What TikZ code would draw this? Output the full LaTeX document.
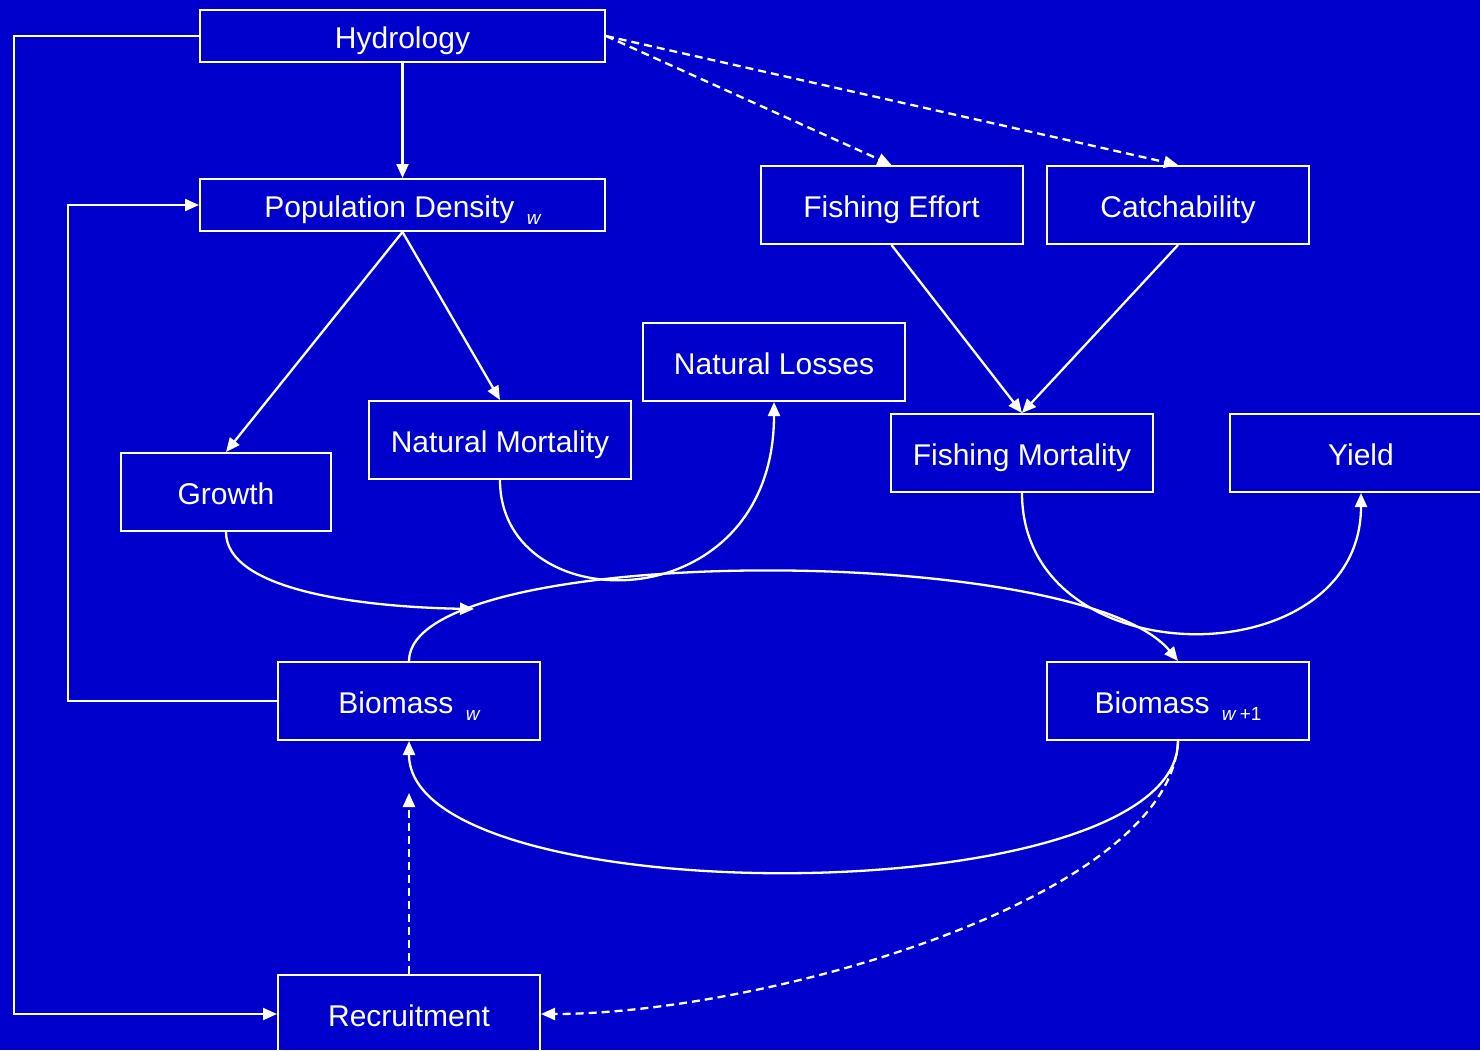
\documentclass[tikz,border=0pt]{standalone}
\usepackage{fontspec}
\setmainfont{Liberation Sans}
\usepackage{tikz}
\usetikzlibrary{arrows.meta,calc,positioning}
\definecolor{bgblue}{RGB}{0,0,204}
\newcommand{\lowsub}[1]{\raisebox{-7pt}{\fontsize{19}{19}\selectfont #1}}
\tikzset{%
	box/.style       = {draw=white, rectangle, line width=2pt, minimum width=262pt, minimum height=78pt, inner sep=0pt, text=white, font=\fontsize{30}{34}\selectfont, text height=25pt, text depth=0pt, text centered},
	arrow/.style     = {draw=white, line width=2.3pt, -{Triangle[length=14pt,width=12pt]}},
	dasharrow/.style = {arrow, dash pattern=on 8pt off 5pt},
}
\begin{document}
\begin{tikzpicture}[x=1pt,y=-1pt]
	\fill[bgblue] (0,0) rectangle (1480,1050);
	\useasboundingbox (0,0) rectangle (1480,1050);
	\node[box, minimum width=405pt, minimum height=52pt] (hydro) at (402.5,36) {Hydrology};
	\node[box, minimum width=405pt, minimum height=52pt] (popdens) at (402.5,205) {Population Density\hspace{4pt} \lowsub{\itshape w}};
	\node[box] (effort) at (891.5,205) {Fishing Effort};
	\node[box] (catch) at (1178,205) {Catchability};
	\node[box] (losses) at (774,362) {Natural Losses};
	\node[box] (natmort) at (500,440) {Natural Mortality};
	\node[box, minimum width=210pt] (growth) at (226,492) {Growth};
	\node[box] (fishmort) at (1022,453) {Fishing Mortality};
	\node[box] (yield) at (1361,453) {Yield};
	\node[box] (biomw) at (409,701) {Biomass\hspace{4pt} \lowsub{\itshape w}};
	\node[box] (biomnext) at (1178,701) {Biomass\hspace{4pt} \lowsub{\textit{w}\,+1}};
	\node[box] (recruit) at (409,1014) {Recruitment};
	\coordinate (growthend) at (474,609);
	\coordinate (recend) at (409,793);
	% hydrology links
	\draw[arrow] (hydro.south) -- (popdens.north);
	\draw[arrow] (hydro.west) -- (14,36) |- (recruit.west);
	\draw[dasharrow] (hydro.east) -- (effort.north);
	\draw[dasharrow] (hydro.east) -- (catch.north);
	% density feedback
	\draw[arrow] (biomw.west) -- (68,701) |- (popdens.west);
	\draw[arrow] (popdens.south) -- (growth.north);
	\draw[arrow] (popdens.south) -- (natmort.north);
	\draw[arrow] (effort.south) -- (fishmort.north);
	\draw[arrow] (catch.south) -- (fishmort.north);
	% curves
	\draw[arrow] (natmort.south) .. controls (500,623) and (774,623) .. (losses.south);
	\draw[arrow] (fishmort.south) .. controls (1022,679) and (1361,679) .. (yield.south);
	\draw[arrow] (growth.south) .. controls (226,590) and (360,607) .. (growthend);
	\draw[arrow] (biomw.north) .. controls (409,542) and (1080,542) .. (biomnext.north);
	\draw[arrow] (biomnext.south) .. controls (1178,915) and (409,915) .. (biomw.south);
	\draw[dasharrow] (biomnext.south) .. controls (1170,900) and (760,1014) .. (recruit.east);
	\draw[dasharrow] (recruit.north) -- (recend);
\end{tikzpicture}
\end{document}
